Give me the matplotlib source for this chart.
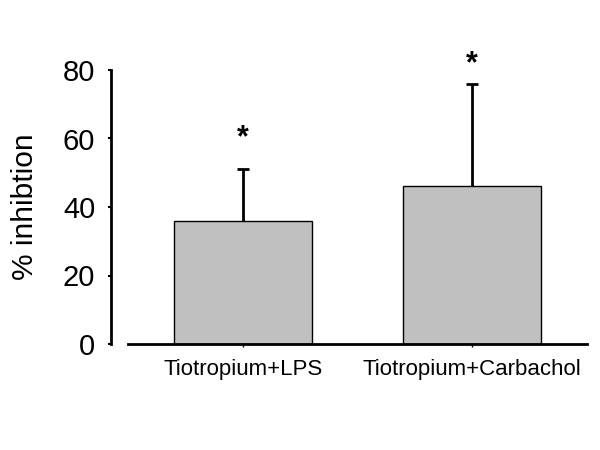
import matplotlib
matplotlib.use("Agg")
import matplotlib.pyplot as plt

categories = ["Tiotropium+LPS", "Tiotropium+Carbachol"]
values = [36, 46]
errors = [15, 30]
stars = ["*", "*"]
yticks = [0, 20, 40, 60, 80]

plt.rcParams['font.family'] = ['Liberation Sans', 'DejaVu Sans']

fig = plt.figure(figsize=(6, 4.5), dpi=100)
ax = fig.add_axes([128/600, 1-344/450, (587-128)/600, (344-70)/450])

x = list(range(len(categories)))
ax.bar(x, values, width=0.6, color='#c0c0c0', edgecolor='black', linewidth=1.0, zorder=2)
eb = ax.errorbar(x, values, yerr=[[0]*len(errors), errors], fmt='none', ecolor='black',
                 elinewidth=2, capsize=4.5, capthick=2, zorder=1)
eb[1][0].set_visible(False)

star_offsets = [31, 19]
for xi, v, e, s, off in zip(x, values, errors, stars, star_offsets):
    ax.annotate(s, xy=(xi, v + e), xytext=(0, off), textcoords='offset pixels',
                ha='center', va='center', fontsize=22, fontweight='bold',
                annotation_clip=False)

ax.set_xlim(-0.5, 1.5)
ax.set_ylim(0, 80)
ax.set_yticks(yticks)
ax.set_xticks(x)
ax.set_xticklabels(categories, fontsize=16)
ax.tick_params(axis='y', labelsize=21, length=2.5, width=1.5, pad=9)
ax.tick_params(axis='x', length=2.5, width=1, pad=8)
ax.spines['top'].set_visible(False)
ax.spines['right'].set_visible(False)
ax.spines['left'].set_position(('outward', 12))
ax.spines['left'].set_linewidth(2)
ax.spines['bottom'].set_linewidth(2)
ax.set_ylabel('% inhibtion', fontsize=21.5, labelpad=17)

fig.savefig('out.png', dpi=100)
